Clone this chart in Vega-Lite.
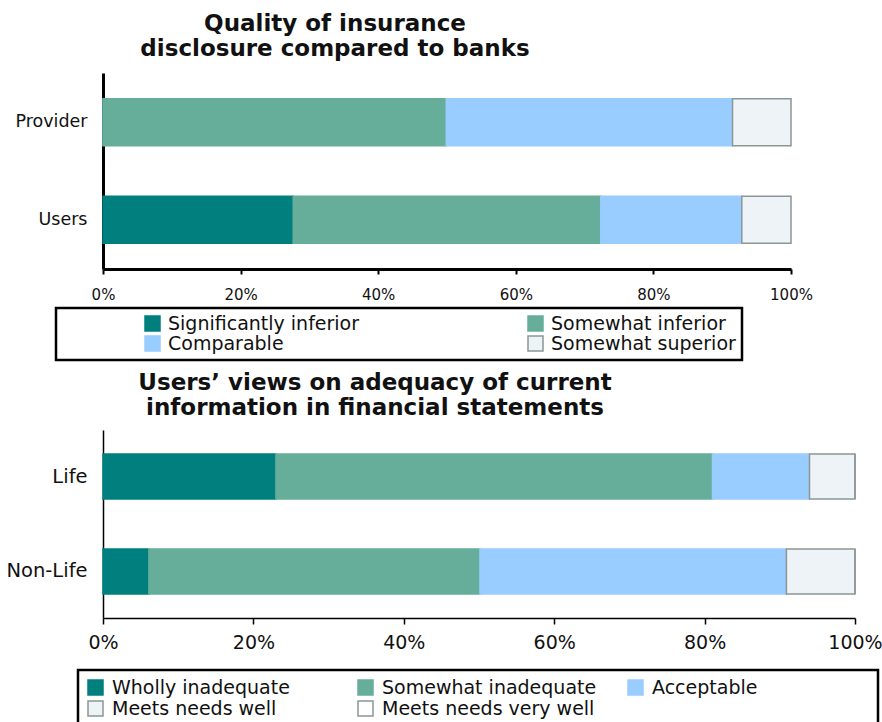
{
  "$schema": "https://vega.github.io/schema/vega-lite/v6.json",
  "background": "white",
  "padding": {"left": 5, "top": 13, "right": 0, "bottom": 0},
  "spacing": 10,
  "config": {
    "view": {"stroke": null},
    "font": "DejaVu Sans",
    "legend": {"strokeWidth": 2.5}
  },
  "resolve": {
    "scale": {"fill": "independent", "stroke": "independent", "x": "independent", "y": "independent"},
    "legend": {"fill": "independent", "stroke": "independent"}
  },
  "vconcat": [
    {
      "title": {
        "text": ["Quality of insurance", "disclosure compared to banks"],
        "font": "DejaVu Sans", "fontSize": 23, "fontWeight": "bold", "lineHeight": 25,
        "color": "#111111", "anchor": "middle", "dx": -112, "offset": 12
      },
      "width": 688,
      "height": 196,
      "data": {
        "values": [
          {"group": "Provider", "category": "Significantly inferior", "k": 1, "share": 0},
          {"group": "Provider", "category": "Somewhat inferior", "k": 2, "share": 0.499},
          {"group": "Provider", "category": "Comparable", "k": 3, "share": 0.416},
          {"group": "Provider", "category": "Somewhat superior", "k": 4, "share": 0.085},
          {"group": "Users", "category": "Significantly inferior", "k": 1, "share": 0.2765},
          {"group": "Users", "category": "Somewhat inferior", "k": 2, "share": 0.447},
          {"group": "Users", "category": "Comparable", "k": 3, "share": 0.205},
          {"group": "Users", "category": "Somewhat superior", "k": 4, "share": 0.0715}
        ]
      },
      "mark": {"type": "bar", "strokeWidth": 1.5},
      "encoding": {
        "y": {
          "field": "group", "type": "nominal", "sort": ["Provider", "Users"],
          "scale": {"paddingInner": 0.518, "paddingOuter": 0.264},
          "axis": {
            "title": null, "ticks": false, "domainColor": "black", "domainWidth": 3,
            "labelFont": "DejaVu Sans", "labelFontSize": 17.5, "labelColor": "#111111", "labelPadding": 16
          }
        },
        "x": {
          "field": "share", "type": "quantitative", "stack": "zero",
          "scale": {"domain": [0, 1], "nice": false},
          "axis": {
            "title": null, "grid": false, "values": [0, 0.2, 0.4, 0.6, 0.8, 1], "format": ".0%", "labelFlush": false,
            "domainColor": "black", "domainWidth": 3, "tickColor": "black", "tickWidth": 2, "tickSize": 5,
            "labelFont": "DejaVu Sans", "labelFontSize": 15, "labelColor": "#111111", "labelPadding": 13
          }
        },
        "order": {"field": "k", "type": "quantitative"},
        "fill": {
          "field": "category", "type": "nominal",
          "scale": {
            "domain": ["Significantly inferior", "Somewhat inferior", "Comparable", "Somewhat superior"],
            "range": ["#007F7F", "#66AE9A", "#99CCFF", "#EEF3F8"]
          },
          "legend": {
            "orient": "none", "legendX": -47, "legendY": 235, "columns": 2, "direction": "horizontal", "gridAlign": "all",
            "columnPadding": 165, "rowPadding": -2, "padding": 6,
            "strokeColor": "black",
            "symbolType": "square", "symbolSize": 225, "symbolStrokeWidth": 1.5,
            "labelFont": "DejaVu Sans", "labelFontSize": 19, "labelOffset": 6, "labelColor": "#111111", "labelLimit": 0,
            "title": "\u00a0", "titleOrient": "left", "titleFontSize": 1, "titlePadding": 81
          }
        },
        "stroke": {
          "field": "category", "type": "nominal",
          "scale": {
            "domain": ["Significantly inferior", "Somewhat inferior", "Comparable", "Somewhat superior"],
            "range": ["#007F7F", "#66AE9A", "#99CCFF", "#8C9794"]
          },
          "legend": {
            "orient": "none", "legendX": -47, "legendY": 235, "columns": 2, "direction": "horizontal", "gridAlign": "all",
            "columnPadding": 165, "rowPadding": -2, "padding": 6,
            "strokeColor": "black",
            "symbolType": "square", "symbolSize": 225, "symbolStrokeWidth": 1.5,
            "labelFont": "DejaVu Sans", "labelFontSize": 19, "labelOffset": 6, "labelColor": "#111111", "labelLimit": 0,
            "title": "\u00a0", "titleOrient": "left", "titleFontSize": 1, "titlePadding": 81
          }
        }
      }
    },
    {
      "title": {
        "text": ["Users\u2019 views on adequacy of current", "information  in financial statements"],
        "font": "DejaVu Sans", "fontSize": 23, "fontWeight": "bold", "lineHeight": 25,
        "color": "#111111", "anchor": "middle", "dx": -104, "offset": 10
      },
      "width": 752,
      "height": 188,
      "data": {
        "values": [
          {"group": "Life", "category": "Wholly inadequate", "k": 1, "share": 0.23},
          {"group": "Life", "category": "Somewhat inadequate", "k": 2, "share": 0.5805},
          {"group": "Life", "category": "Acceptable", "k": 3, "share": 0.129},
          {"group": "Life", "category": "Meets needs well", "k": 4, "share": 0.0605},
          {"group": "Life", "category": "Meets needs very well", "k": 5, "share": 0},
          {"group": "Non-Life", "category": "Wholly inadequate", "k": 1, "share": 0.061},
          {"group": "Non-Life", "category": "Somewhat inadequate", "k": 2, "share": 0.4403},
          {"group": "Non-Life", "category": "Acceptable", "k": 3, "share": 0.4075},
          {"group": "Non-Life", "category": "Meets needs well", "k": 4, "share": 0.0912},
          {"group": "Non-Life", "category": "Meets needs very well", "k": 5, "share": 0}
        ]
      },
      "mark": {"type": "bar", "strokeWidth": 1.5},
      "encoding": {
        "y": {
          "field": "group", "type": "nominal", "sort": ["Life", "Non-Life"],
          "scale": {"paddingInner": 0.526, "paddingOuter": 0.2526},
          "axis": {
            "title": null, "ticks": false, "domainColor": "black", "domainWidth": 1.5,
            "labelFont": "DejaVu Sans", "labelFontSize": 19.5, "labelColor": "#111111", "labelPadding": 16
          }
        },
        "x": {
          "field": "share", "type": "quantitative", "stack": "zero",
          "scale": {"domain": [0, 1], "nice": false},
          "axis": {
            "title": null, "grid": false, "values": [0, 0.2, 0.4, 0.6, 0.8, 1], "format": ".0%", "labelFlush": false,
            "domainColor": "black", "domainWidth": 1.5, "tickColor": "black", "tickWidth": 1.5, "tickSize": 6,
            "labelFont": "DejaVu Sans", "labelFontSize": 19, "labelColor": "#111111", "labelPadding": 9
          }
        },
        "order": {"field": "k", "type": "quantitative"},
        "fill": {
          "field": "category", "type": "nominal",
          "scale": {
            "domain": ["Wholly inadequate", "Somewhat inadequate", "Acceptable", "Meets needs well", "Meets needs very well"],
            "range": ["#007F7F", "#66AE9A", "#99CCFF", "#EEF3F8", "#FFFFFF"]
          },
          "legend": {
            "orient": "none", "legendX": -25, "legendY": 240, "columns": 3, "direction": "horizontal", "gridAlign": "all",
            "columnPadding": 28, "rowPadding": 0, "padding": 8,
            "strokeColor": "black",
            "symbolType": "square", "symbolSize": 225, "symbolStrokeWidth": 1.5,
            "labelFont": "DejaVu Sans", "labelFontSize": 19, "labelOffset": 7, "labelColor": "#111111", "labelLimit": 0,
            "title": "\u00a0", "titleOrient": "right", "titleFontSize": 1, "titlePadding": 113
          }
        },
        "stroke": {
          "field": "category", "type": "nominal",
          "scale": {
            "domain": ["Wholly inadequate", "Somewhat inadequate", "Acceptable", "Meets needs well", "Meets needs very well"],
            "range": ["#007F7F", "#66AE9A", "#99CCFF", "#8C9794", "#8C9794"]
          },
          "legend": {
            "orient": "none", "legendX": -25, "legendY": 240, "columns": 3, "direction": "horizontal", "gridAlign": "all",
            "columnPadding": 28, "rowPadding": 0, "padding": 8,
            "strokeColor": "black",
            "symbolType": "square", "symbolSize": 225, "symbolStrokeWidth": 1.5,
            "labelFont": "DejaVu Sans", "labelFontSize": 19, "labelOffset": 7, "labelColor": "#111111", "labelLimit": 0,
            "title": "\u00a0", "titleOrient": "right", "titleFontSize": 1, "titlePadding": 113
          }
        }
      }
    }
  ]
}
